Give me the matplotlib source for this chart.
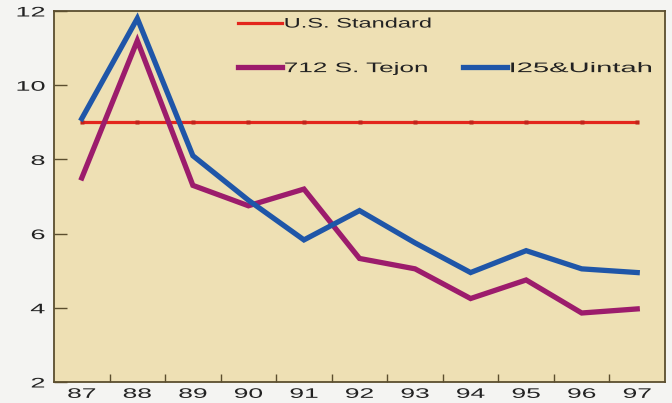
import matplotlib
matplotlib.use("Agg")
import matplotlib.pyplot as plt
from matplotlib.lines import Line2D
from matplotlib.patheffects import AbstractPathEffect
from matplotlib.transforms import Affine2D

# values
years = ["87", "88", "89", "90", "91", "92", "93", "94", "95", "96", "97"]
us_standard = [9, 9, 9, 9, 9, 9, 9, 9, 9, 9, 9]
tejon = [7.5, 11.2, 7.3, 6.75, 7.2, 5.33, 5.05, 4.25, 4.75, 3.86, 3.97]
uintah = [9.1, 11.8, 8.1, 6.9, 5.83, 6.62, 5.75, 4.95, 5.54, 5.05, 4.95]

plt.rcParams['font.family'] = ['Liberation Sans', 'DejaVu Sans']


# the scan uses a very wide Helvetica, so stretch the text sideways
class Widen(AbstractPathEffect):
    def __init__(self, fx, anchor='center'):
        super().__init__()
        self.fx = fx
        self.anchor = anchor

    def draw_path(self, renderer, gc, tpath, affine, rgbFace=None):
        bb = tpath.get_extents(affine)
        if self.anchor == 'left':
            cx = bb.x0
        elif self.anchor == 'right':
            cx = bb.x1
        else:
            cx = (bb.x0 + bb.x1) / 2
        st = Affine2D().translate(-cx, 0).scale(self.fx, 1).translate(cx, 0)
        renderer.draw_path(gc, tpath, affine + st, rgbFace)


fig = plt.figure(figsize=(6.72, 4.03), dpi=100, facecolor='#f4f4f2')
ax = fig.add_axes([54/672, 1 - 382/403, 611/672, 371/403])
ax.set_facecolor('#eee0b4')

x = list(range(len(years)))
ax.plot(x, us_standard, color='#e3261c', lw=2.3, marker='s', ms=2.3,
        mfc='#c0241b', mec='none', zorder=2)
purple, = ax.plot(x, tejon, color='#9c1c6c', lw=3.8, label='712 S. Tejon',
                  solid_joinstyle='miter', zorder=3)
blue, = ax.plot(x, uintah, color='#1f56a8', lw=3.8, label='I25&Uintah',
                solid_joinstyle='miter', zorder=4)
red = Line2D([], [], color='#e3261c', lw=2.3)

ax.set_xlim(-0.5, len(years) - 0.5)
ax.set_ylim(2, 12)
ax.set_yticks([2, 4, 6, 8, 10, 12])
ax.set_xticks(x)
ax.set_xticklabels(years)
ax.set_xticks([i + 0.5 for i in range(len(years) - 1)], minor=True)

ax.tick_params(axis='y', direction='in', length=9, width=1, color='#5b4e2e',
               labelsize=10, pad=6.5, labelcolor='#222222')
ax.tick_params(axis='x', which='major', length=0, labelsize=10, pad=3.5,
               labelcolor='#222222')
ax.tick_params(axis='x', which='minor', direction='in', length=6, width=1,
               color='#5b4e2e')

for lab in ax.get_yticklabels():
    lab.set_path_effects([Widen(1.95, 'right')])
for lab in ax.get_xticklabels():
    lab.set_path_effects([Widen(1.9, 'center')])

for s in ax.spines.values():
    s.set_color('#5b4e2e')
    s.set_linewidth(1.3)

blank = Line2D([], [], alpha=0)
leg = ax.legend([red, purple, blank, blue],
                ['U.S. Standard', '712 S. Tejon', ' ', 'I25&Uintah'],
                ncol=2, loc='upper left', bbox_to_anchor=(0.301, 0.985),
                frameon=False, fontsize=10, handlelength=3.15,
                handletextpad=0.2, labelspacing=2.2, columnspacing=6.6,
                borderpad=0, borderaxespad=0)
# the scan has looser letter spacing on narrow glyphs, so widen per label
for t, fx in zip(leg.get_texts(), [1.7, 1.88, 1.0, 2.1]):
    t.set_color('#222222')
    t.set_path_effects([Widen(fx, 'left')])

fig.savefig('out.png', dpi=100, facecolor=fig.get_facecolor())
